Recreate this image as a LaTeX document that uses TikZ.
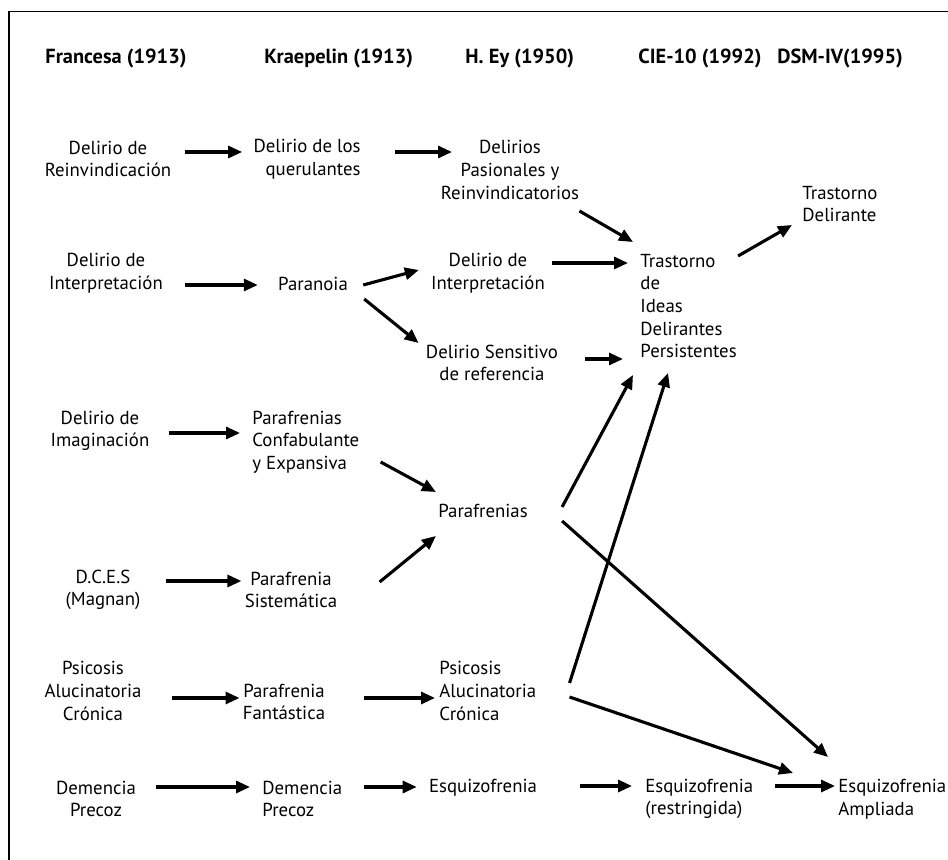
\documentclass[tikz,border=0pt]{standalone}
\usepackage{fontspec}
\setmainfont{PT Sans}
\usetikzlibrary{arrows.meta, positioning, calc}

\begin{document}
\begin{tikzpicture}[
    x=0.5pt, y=-0.5pt,
    txt/.style={inner sep=0pt, align=center, font=\fontsize{9.4}{11.3}\selectfont},
    txtl/.style={txt, align=left, anchor=west},
    head/.style={inner sep=0pt, anchor=west, font=\fontsize{10.2}{12}\selectfont\bfseries},
    link/.style={-{Triangle[length=7pt, width=6pt]}, line width=1.55pt},
]
    \useasboundingbox (0,0) rectangle (948,860);
    % frame
    \draw[line width=0.8pt] (9,860) -- (9,11.5) -- (948,11.5);

    % Column headers
    \node[head] (hFr)  at (45,58)  {Francesa (1913)};
    \node[head] (hKr)  at (264,58) {Kraepelin (1913)};
    \node[head] (hEy)  at (465,58) {H. Ey (1950)};
    \node[head] (hCie) at (638,58) {CIE-10 (1992)};
    \node[head] (hDsm) at (777,58) {DSM-IV(1995)};

    % Francesa
    \node[txt] (reinv)  at (108,159) {Delirio de\\Reinvindicación};
    \node[txt] (interp) at (106,273) {Delirio de\\Interpretación};
    \node[txt] (imag)   at (100,431) {Delirio de\\Imaginación};
    \node[txt] (dces)   at (103,590) {D.C.E.S\\(Magnan)};
    \node[txt] (psic)   at (93,691)  {Psicosis\\Alucinatoria\\Crónica};
    \node[txt] (demFr)  at (96,799)  {Demencia\\Precoz};

    % Kraepelin
    \node[txt, align=right, anchor=east] (quer) at (361,159) {Delirio de los\\querulantes};
    \node[txt]  (paran)  at (313,284) {Paranoia};
    \node[txtl] (confab) at (252,442) {Parafrenias\\Confabulante\\y Expansiva};
    \node[txt]  (sist)   at (291,590) {Parafrenia\\Sistemática};
    \node[txt]  (fant)   at (284,702) {Parafrenia\\Fantástica};
    \node[txtl] (demKr)  at (262,799) {Demencia\\Precoz};

    % H. Ey
    \node[txt]  (pasion)  at (510,170) {Delirios\\Pasionales y\\Reinvindicatorios};
    \node[txt]  (dinterp) at (488,273) {Delirio de\\Interpretación};
    \node[txt]  (sens)    at (492,363) {Delirio Sensitivo\\de referencia};
    \node[txt]  (paraf)   at (483,511) {Parafrenias};
    \node[txtl] (psicEy)  at (439,691) {Psicosis\\Alucinatoria\\Crónica};
    \node[txt]  (esq)     at (483,788) {Esquizofrenia};

    % CIE-10
    \node[txtl] (idp)  at (640,306) {Trastorno\\de\\Ideas\\Delirantes\\Persistentes};
    \node[txtl] (esqR) at (645,799) {Esquizofrenia\\(restringida)};

    % DSM-IV
    \node[txtl] (tdel) at (802,204) {Trastorno\\Delirante};
    \node[txtl] (esqA) at (838,799) {Esquizofrenia\\Ampliada};

    % Connections
    \draw[link] ([shift={(13,-7)}]reinv.east) -- ([shift={(-11,-7)}]quer.west);
    \draw[link] ([shift={(34,-7)}]quer.east) -- ([shift={(-58,-18)}]pasion.center);
    \draw[link] ([shift={(22,12)}]interp.east) -- ([shift={(-20,1)}]paran.west);
    \draw[link] ([shift={(15,1)}]paran.east) -- ([shift={(-12,-3)}]dinterp.west);
    \draw[link] ([shift={(16,15)}]paran.east) -- ([shift={(-7,-20)}]sens.west);
    \draw[link] ([shift={(0,41)}]pasion.east) -- ([shift={(-7,-64)}]idp.west);
    \draw[link] ([shift={(7,-10)}]dinterp.east) -- ([shift={(-12,-43)}]idp.west);
    \draw[link] ([shift={(27,-4)}]sens.east) -- ([shift={(-17,53)}]idp.west);
    \draw[link] ([shift={(1,-50)}]idp.east) -- ([shift={(-10,21)}]tdel.west);
    \draw[link] ([shift={(19,2)}]imag.east) -- ([shift={(-12,-9)}]confab.west);
    \draw[link] ([shift={(21,20)}]confab.east) -- ([shift={(-2,-19)}]paraf.west);
    \draw[link] ([shift={(25,-9)}]dces.east) -- ([shift={(-3,-9)}]sist.west);
    \draw[link] ([shift={(42,-8)}]sist.east) -- ([shift={(-2,25)}]paraf.west);
    \draw[link] ([shift={(34,-4)}]paraf.east) -- ([shift={(-7,69)}]idp.west);
    \draw[link] ([shift={(33,-8)}]psicEy.east) -- ([shift={(28,67)}]idp.west);
    \draw[link] ([shift={(34,10)}]paraf.east) -- ([shift={(-10,-42)}]esqA.west);
    \draw[link] ([shift={(30,7)}]psic.east) -- ([shift={(-3,-4)}]fant.west);
    \draw[link] ([shift={(39,-4)}]fant.east) -- ([shift={(-4,7)}]psicEy.west);
    \draw[link] ([shift={(33,6)}]psicEy.east) -- ([shift={(-45,-26)}]esqA.west);
    \draw[link] ([shift={(20,-12)}]demFr.east) -- ([shift={(-12,-12)}]demKr.west);
    \draw[link] ([shift={(21,-12)}]demKr.east) -- ([shift={(-12,-1)}]esq.west);
    \draw[link] ([shift={(43,-2)}]esq.east) -- ([shift={(-13,-13)}]esqR.west);
    \draw[link] ([shift={(21,-13)}]esqR.east) -- ([shift={(-3,-13)}]esqA.west);
\end{tikzpicture}
\end{document}
